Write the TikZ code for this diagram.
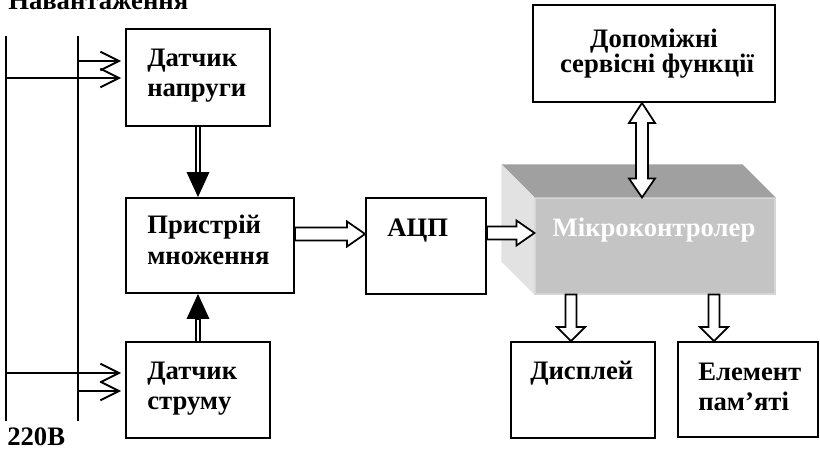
\documentclass[tikz,border=0pt]{standalone}
\usepackage{fontspec}
\setmainfont{Liberation Serif}
\usetikzlibrary{arrows.meta,calc}
\definecolor{topgray}{HTML}{A0A0A0}
\definecolor{frontgray}{HTML}{C4C4C4}
\definecolor{sidegray}{HTML}{E2E2E2}
\definecolor{edgegray}{HTML}{D6D6D6}
\newcommand\hArrR[2]{\draw[blockarr] ($(#1)+(0,-6.5)$) -- ($(#2)+(-18,-6.5)$) -- ($(#2)+(-18,-12.5)$) -- (#2) -- ($(#2)+(-18,12.5)$) -- ($(#2)+(-18,6.5)$) -- ($(#1)+(0,6.5)$) -- cycle;}
\newcommand\vArrD[2]{\draw[blockarr] ($(#1)+(-5.5,0)$) -- ($(#2)+(-5.5,-14)$) -- ($(#2)+(-14,-14)$) -- (#2) -- ($(#2)+(14,-14)$) -- ($(#2)+(5.5,-14)$) -- ($(#1)+(5.5,0)$) -- cycle;}
\newcommand\vArrUD[2]{\draw[blockarr] (#1) -- ($(#1)+(13,20)$) -- ($(#1)+(6,20)$) -- ($(#2)+(6,-19)$) -- ($(#2)+(13,-19)$) -- (#2) -- ($(#2)+(-13,-19)$) -- ($(#2)+(-6,-19)$) -- ($(#1)+(-6,20)$) -- ($(#1)+(-13,20)$) -- cycle;}
\begin{document}
\begin{tikzpicture}[x=0.75pt,y=-0.75pt,
  box/.style={draw,line width=1.4pt,inner sep=0pt},
  txt/.style={anchor=base west,inner sep=0pt,font=\fontsize{20}{24}\selectfont\bfseries},
  ctxt/.style={anchor=base,inner sep=0pt,font=\fontsize{20}{24}\selectfont\bfseries},
  blockarr/.style={line width=1.3pt,fill=white,line join=miter},
  bus/.style={line width=1.4pt},
  barb/.style={line width=1.4pt,shorten >=3pt,-{Straight Barb[length=14pt,width=14pt]}},
  dbl/.style={line width=0.8pt,double distance=2.2pt},
  tri/.style={line width=0.8pt,-{Triangle[length=18.75pt,width=17pt]}}]
\clip (0,0) rectangle (820,449);
\useasboundingbox (0,0) rectangle (820,449);
% boxes
\node[box,minimum width=144*0.75pt,minimum height=97*0.75pt] (dn) at (198,77.5) {};
\node[box,minimum width=168*0.75pt,minimum height=95*0.75pt] (pm) at (210,245.5) {};
\node[box,minimum width=144*0.75pt,minimum height=96*0.75pt] (ds) at (198,390) {};
\node[box,minimum width=120*0.75pt,minimum height=96*0.75pt] (adc) at (426,246) {};
\node[box,minimum width=242*0.75pt,minimum height=97*0.75pt] (aux) at (654,53.5) {};
\node[box,minimum width=144*0.75pt,minimum height=96*0.75pt] (disp) at (583,390) {};
\node[box,minimum width=140*0.75pt,minimum height=95*0.75pt] (mem) at (748,389.5) {};
% microcontroller
\node[fill=frontgray,draw=edgegray,line width=0.8pt,inner sep=0pt,minimum width=240*0.75pt,minimum height=96*0.75pt] (mcu) at (655,246) {};
\fill[topgray] (mcu.north west) -- ++(-33,-33) -- ($(mcu.north east)+(-33,-33)$) -- (mcu.north east) -- cycle;
\fill[sidegray] (mcu.north west) -- ++(-33,-33) -- ($(mcu.south west)+(-33,-33)$) -- (mcu.south west) -- cycle;
% texts
\node[txt] (t0) at (8,10) {Навантаження};
\node[txt] (t1) at (147,67) {Датчик};
\node[txt] (t2) at (147,97) {напруги};
\node[txt] (t3) at (147,233) {Пристрій};
\node[txt] (t4) at (147,264) {множення};
\node[txt] (t5) at (147,379) {Датчик};
\node[txt] (t6) at (147,409) {струму};
\node[txt] (t7) at (387,236) {АЦП};
\node[ctxt] (t8) at (654,48) {Допоміжні};
\node[ctxt] (t9) at (657,73) {сервісні функції};
\node[ctxt,text=white] (t10) at (654,236) {Мікроконтролер};
\node[txt] (t11) at (530,379) {Дисплей};
\node[txt] (t12) at (698,380) {Елемент};
\node[txt] (t13) at (698,410) {пам’яті};
\node[txt] (t14) at (7,445) {220В};
% buses
\coordinate (b1t) at (6,36); \coordinate (b1b) at (6,421);
\coordinate (b2t) at (78,36); \coordinate (b2b) at (78,421);
\draw[bus] (b1t) -- (b1b);
\draw[bus] (b2t) -- (b2b);
\draw[barb] (78,61) -- (dn.west |- 0,61);
\draw[barb] (6,78) -- (dn.west |- 0,78);
\draw[barb] (6,373) -- (ds.west |- 0,373);
\draw[barb] (78,391) -- (ds.west |- 0,391);
% double arrows with filled heads
\coordinate (h1) at ($(dn.south |- pm.north)+(0,-25)$);
\draw[dbl] (dn.south) -- (h1);
\draw[tri] (h1) -- (dn.south |- pm.north);
\coordinate (h2) at ($(ds.north |- pm.south)+(0,25)$);
\draw[dbl] (ds.north) -- (h2);
\draw[tri] (h2) -- (ds.north |- pm.south);
% block arrows
\hArrR{pm.east |- 0,234}{adc.west |- 0,234}
\hArrR{adc.east |- 0,233}{mcu.west |- 0,233}
\vArrD{571,0 |- mcu.south}{571,0 |- disp.north}
\vArrD{714,0 |- mcu.south}{714,0 |- mem.north}
\vArrUD{642,0 |- aux.south}{642,0 |- mcu.north}
\end{tikzpicture}
\end{document}
